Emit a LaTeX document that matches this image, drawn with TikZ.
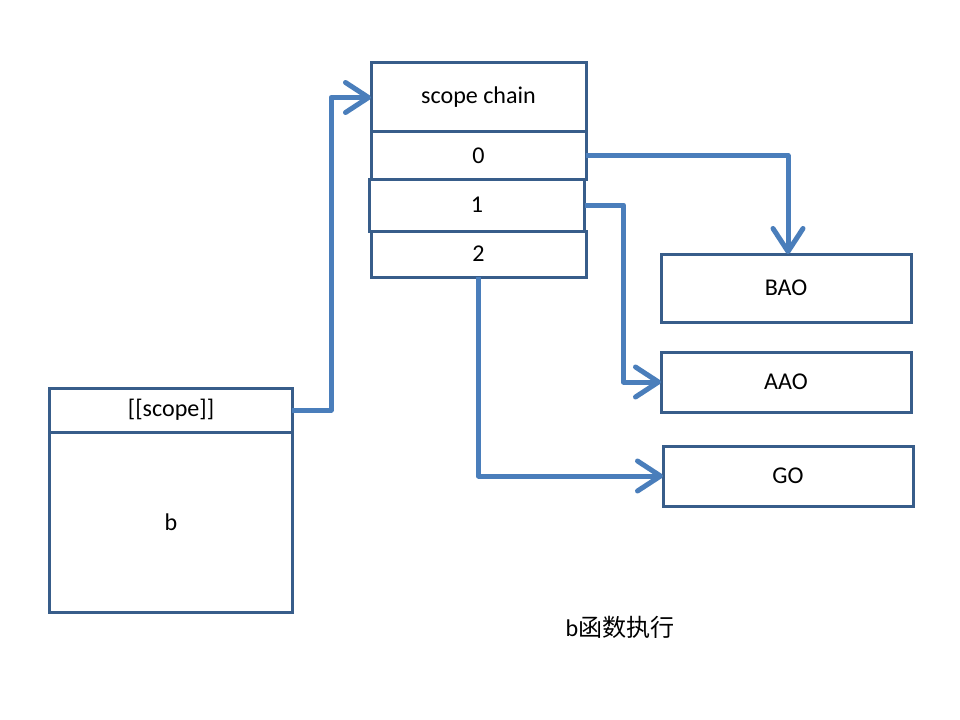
\documentclass[tikz,border=0pt]{standalone}
\usepackage{fontspec}
\setmainfont{Carlito}
\newfontfamily\cjk{Noto Sans CJK SC}
\usetikzlibrary{arrows.meta, positioning}
\definecolor{boxblue}{HTML}{385D8A}
\definecolor{arrowblue}{HTML}{4A7EBB}

\begin{document}
\begin{tikzpicture}[x=0.2mm, y=-0.2mm, node distance=0pt,
    box/.style={rectangle, draw=boxblue, line width=0.6mm, outer sep=0pt, minimum width=43mm, font=\fontsize{13.7}{16}\selectfont},
    obj/.style={box, minimum width=50mm, minimum height=12mm},
    ptr/.style={draw=arrowblue, line width=1mm, line join=round, -{Straight Barb[length=4.6mm, width=6mm, round]}}]

\useasboundingbox (0,0) rectangle (960,720);

% scope chain of b
\node [box, minimum height=13.8mm] (chain) at (478.5,97.5) {scope chain};
\node [box, minimum height=9.4mm, below=of chain] (s0) {0};
\node [box, minimum height=10.4mm, below=of s0, xshift=-0.3mm] (s1) {1};
\node [box, minimum height=9.2mm, below=of s1, xshift=0.3mm] (s2) {2};

% activation objects
\node [obj, minimum height=13.6mm] (bao) at (786,288) {BAO};
\node [obj] (aao) at (786,382) {AAO};
\node [obj] (go) at (788,476) {GO};

% function b
\node [box, minimum width=48.4mm, minimum height=8.8mm] (scope) at (171,410) {[[scope]]};
\node [box, minimum width=48.4mm, minimum height=36mm, below=of scope] (fn) {b};

\node [font=\fontsize{13.7}{16}\selectfont] (cap) at (620,627) {b{\cjk 函数执行}};

\draw [ptr] (scope.east) -- ++(39,0) |- (chain.west);
\draw [ptr] (s0.east) -| ([xshift=0.4mm]bao.north);
\draw [ptr] (s1.east) -- ++(39,0) |- (aao.west);
\draw [ptr] (s2.south) |- (go.west);
\end{tikzpicture}
\end{document}
